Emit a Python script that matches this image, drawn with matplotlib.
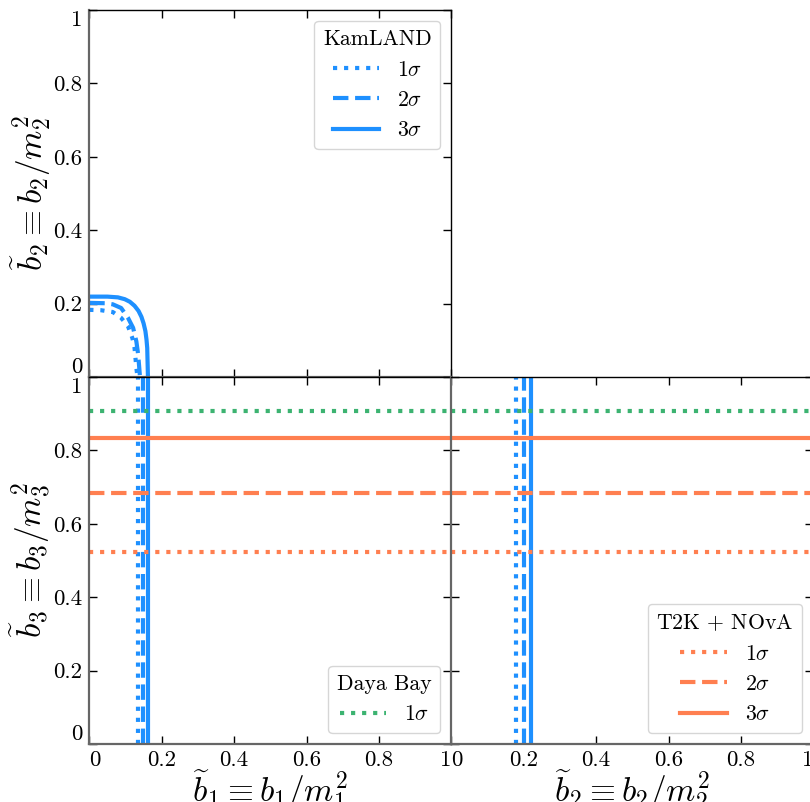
import matplotlib
matplotlib.use("Agg")
import matplotlib.pyplot as plt
import numpy as np

plt.rcParams['font.family'] = ['cmr10', 'DejaVu Serif']
plt.rcParams['mathtext.fontset'] = 'cm'
plt.rcParams['axes.unicode_minus'] = False

# ---- data ----
sigma_labels = [r"$1\sigma$", r"$2\sigma$", r"$3\sigma$"]
styles = [":", "--", "-"]

# KamLAND contours in (b1, b2) plane
kam1_b1 = [0.0, 0.032, 0.065, 0.088, 0.107, 0.119, 0.125, 0.130, 0.133]
kam1_b2 = [0.183, 0.182, 0.177, 0.161, 0.138, 0.106, 0.079, 0.025, 0.0]
kam2_b1 = [0.0, 0.045, 0.065, 0.088, 0.107, 0.121, 0.130, 0.135, 0.138, 0.140]
kam2_b2 = [0.202, 0.201, 0.198, 0.188, 0.161, 0.134, 0.097, 0.061, 0.025, 0.0]
kam3_b1 = [0.0, 0.05, 0.079, 0.098, 0.112, 0.125, 0.136, 0.144, 0.150, 0.155, 0.158, 0.160, 0.161, 0.162]
kam3_b2 = [0.219, 0.219, 0.217, 0.212, 0.205, 0.194, 0.180, 0.164, 0.146, 0.125, 0.102, 0.079, 0.04, 0.0]

# KamLAND limits shown as vertical lines
kam_b1_limits = [0.134, 0.147, 0.161]
kam_b2_limits = [0.180, 0.201, 0.221]

# Daya Bay 1 sigma on b3
daya_b3 = [0.908]
# T2K + NOvA on b3
t2k_b3 = [0.523, 0.683, 0.834]

blue = "#1E90FF"
orange = "#FF7F50"
green = "#3CB371"

ticks = [0, 0.2, 0.4, 0.6, 0.8, 1.0]
tick_labels = ["0", "0.2", "0.4", "0.6", "0.8", "1"]

fig = plt.figure(figsize=(8.10, 8.02), dpi=100)
W = 362 / 810
H = 367 / 802
xl = 89.3 / 810
xr = 451.3 / 810
yt = (802 - 377) / 802
yb = (802 - 744) / 802

ax_tl = fig.add_axes([xl, yt, W, H])
ax_bl = fig.add_axes([xl, yb, W, H])
ax_br = fig.add_axes([xr, yb, W, H])

lw = 3
fs_tick = 16.5
fs_leg = 15.7
fs_label = 24
hl = 2.15

for ax in (ax_tl, ax_bl, ax_br):
    ax.set_xlim(0, 1)
    ax.set_ylim(0, 1)
    ax.set_xticks(ticks)
    ax.set_yticks(ticks)
    ax.set_xticklabels(tick_labels)
    ax.set_yticklabels(tick_labels)
    ax.tick_params(direction="in", top=True, right=True, length=6, width=1,
                   labelsize=fs_tick, pad=5)
    for s in ("left", "bottom"):
        ax.spines[s].set_color("#666666")
        ax.spines[s].set_linewidth(1.6)
    for s in ("top", "right"):
        ax.spines[s].set_color("black")
        ax.spines[s].set_linewidth(1.0)

# top-left: KamLAND contours
curves = [(kam1_b1, kam1_b2), (kam2_b1, kam2_b2), (kam3_b1, kam3_b2)]
for (cx, cy), ls, lab in zip(curves, styles, sigma_labels):
    ax_tl.plot(cx, cy, color=blue, ls=ls, lw=lw, label=lab)
ax_tl.tick_params(labelbottom=False)
ax_tl.set_ylabel(r"$\widetilde{b}_2 \equiv b_2/m_2^2$", fontsize=fs_label, labelpad=0)
ax_tl.legend(loc="upper right", title="KamLAND", fontsize=fs_leg,
             title_fontsize=fs_leg, handlelength=hl)

# bottom-left: b1 vs b3
for v, ls in zip(kam_b1_limits, styles):
    ax_bl.axvline(v, color=blue, ls=ls, lw=lw)
dline = None
for h in daya_b3:
    dline = ax_bl.axhline(h, color=green, ls=":", lw=lw, label=r"$1\sigma$")
for h, ls in zip(t2k_b3, styles):
    ax_bl.axhline(h, color=orange, ls=ls, lw=lw)
ax_bl.legend(handles=[dline], loc="lower right", title="Daya Bay", fontsize=fs_leg,
             title_fontsize=fs_leg, handlelength=hl)
ax_bl.set_xlabel(r"$\widetilde{b}_1 \equiv b_1/m_1^2$", fontsize=fs_label, labelpad=-2)
ax_bl.set_ylabel(r"$\widetilde{b}_3 \equiv b_3/m_3^2$", fontsize=fs_label, labelpad=0)

# bottom-right: b2 vs b3
for v, ls in zip(kam_b2_limits, styles):
    ax_br.axvline(v, color=blue, ls=ls, lw=lw)
for h in daya_b3:
    ax_br.axhline(h, color=green, ls=":", lw=lw)
t2k_handles = []
for h, ls, lab in zip(t2k_b3, styles, sigma_labels):
    ln = ax_br.axhline(h, color=orange, ls=ls, lw=lw, label=lab)
    t2k_handles.append(ln)
ax_br.legend(handles=t2k_handles, loc="lower right", title=r"T2K $+$ NOvA",
             fontsize=fs_leg, title_fontsize=fs_leg, handlelength=hl)
ax_br.tick_params(labelleft=False)
ax_br.set_xlabel(r"$\widetilde{b}_2 \equiv b_2/m_2^2$", fontsize=fs_label, labelpad=-2)

# end tick labels aligned inward
for ax in (ax_bl, ax_br):
    xls = ax.get_xticklabels()
    xls[0].set_horizontalalignment("left")
    xls[-1].set_horizontalalignment("right")
for ax in (ax_tl, ax_bl):
    yls = ax.get_yticklabels()
    yls[0].set_verticalalignment("bottom")
    yls[-1].set_verticalalignment("top")

fig.savefig("out.png", dpi=100)
